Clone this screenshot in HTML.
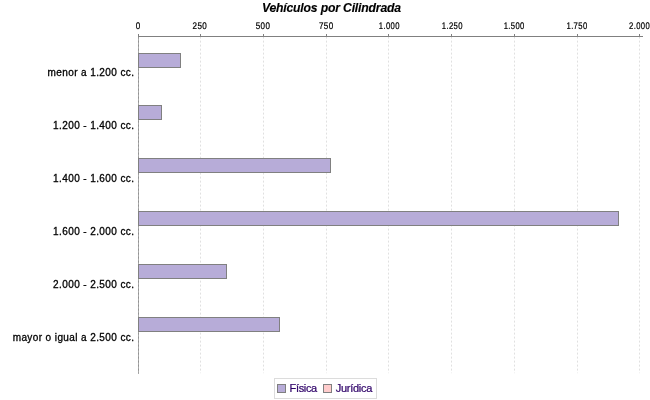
<!DOCTYPE html>
<html><head><meta charset="utf-8"><title>Vehículos por Cilindrada</title>
<style>
html,body{margin:0;padding:0;background:#fff;}
body{width:650px;height:400px;overflow:hidden;font-family:"Liberation Sans",sans-serif;}
svg{display:block;will-change:transform;}
text{font-family:"Liberation Sans",sans-serif;}
</style></head><body>
<svg width="650" height="400" viewBox="0 0 650 400">
<rect x="0" y="0" width="650" height="400" fill="#ffffff"/>
<text x="331.4" y="11.5" text-anchor="middle" font-size="12.2px" letter-spacing="-0.17" font-weight="bold" font-style="italic" fill="#000" stroke="#000" stroke-width="0.15">Vehículos por Cilindrada</text>
<line x1="138.50" y1="36.6" x2="138.50" y2="373.2" stroke="#c0c0c0" stroke-width="0.5" stroke-dasharray="2,2"/>
<line x1="200.50" y1="36.6" x2="200.50" y2="373.2" stroke="#c0c0c0" stroke-width="0.5" stroke-dasharray="2,2"/>
<line x1="263.50" y1="36.6" x2="263.50" y2="373.2" stroke="#c0c0c0" stroke-width="0.5" stroke-dasharray="2,2"/>
<line x1="326.50" y1="36.6" x2="326.50" y2="373.2" stroke="#c0c0c0" stroke-width="0.5" stroke-dasharray="2,2"/>
<line x1="388.50" y1="36.6" x2="388.50" y2="373.2" stroke="#c0c0c0" stroke-width="0.5" stroke-dasharray="2,2"/>
<line x1="451.50" y1="36.6" x2="451.50" y2="373.2" stroke="#c0c0c0" stroke-width="0.5" stroke-dasharray="2,2"/>
<line x1="514.50" y1="36.6" x2="514.50" y2="373.2" stroke="#c0c0c0" stroke-width="0.5" stroke-dasharray="2,2"/>
<line x1="577.50" y1="36.6" x2="577.50" y2="373.2" stroke="#c0c0c0" stroke-width="0.5" stroke-dasharray="2,2"/>
<line x1="639.50" y1="36.6" x2="639.50" y2="373.2" stroke="#c0c0c0" stroke-width="0.5" stroke-dasharray="2,2"/>
<line x1="138.5" y1="37" x2="138.5" y2="373.6" stroke="#adadad" stroke-width="1"/>
<line x1="138.5" y1="36.6" x2="138.5" y2="373.6" stroke="#929292" stroke-width="1" stroke-dasharray="2,2"/>
<rect x="138.5" y="53.50" width="42.00" height="14" fill="#b7acd8" stroke="#808080" stroke-width="1"/>
<rect x="138.5" y="105.50" width="23.00" height="14" fill="#b7acd8" stroke="#808080" stroke-width="1"/>
<rect x="138.5" y="158.50" width="192.00" height="14" fill="#b7acd8" stroke="#808080" stroke-width="1"/>
<rect x="138.5" y="211.50" width="480.00" height="14" fill="#b7acd8" stroke="#808080" stroke-width="1"/>
<rect x="138.5" y="264.50" width="88.00" height="14" fill="#b7acd8" stroke="#808080" stroke-width="1"/>
<rect x="138.5" y="317.50" width="141.00" height="14" fill="#b7acd8" stroke="#808080" stroke-width="1"/>
<line x1="138" y1="36.5" x2="643" y2="36.5" stroke="#808080" stroke-width="1"/>
<line x1="138.50" y1="34" x2="138.50" y2="36.5" stroke="#808080" stroke-width="1"/>
<text transform="translate(138.20,28.9) scale(0.840,1)" text-anchor="middle" font-size="9.60px" letter-spacing="0.45" text-rendering="geometricPrecision" fill="#000" stroke="#000" stroke-width="0.22">0</text>
<line x1="200.50" y1="34" x2="200.50" y2="36.5" stroke="#808080" stroke-width="1"/>
<text transform="translate(199.90,28.9) scale(0.840,1)" text-anchor="middle" font-size="9.60px" letter-spacing="0.45" text-rendering="geometricPrecision" fill="#000" stroke="#000" stroke-width="0.22">250</text>
<line x1="263.50" y1="34" x2="263.50" y2="36.5" stroke="#808080" stroke-width="1"/>
<text transform="translate(263.00,28.9) scale(0.840,1)" text-anchor="middle" font-size="9.60px" letter-spacing="0.45" text-rendering="geometricPrecision" fill="#000" stroke="#000" stroke-width="0.22">500</text>
<line x1="326.50" y1="34" x2="326.50" y2="36.5" stroke="#808080" stroke-width="1"/>
<text transform="translate(326.20,28.9) scale(0.840,1)" text-anchor="middle" font-size="9.60px" letter-spacing="0.45" text-rendering="geometricPrecision" fill="#000" stroke="#000" stroke-width="0.22">750</text>
<line x1="388.50" y1="34" x2="388.50" y2="36.5" stroke="#808080" stroke-width="1"/>
<text transform="translate(389.30,28.9) scale(0.800,1)" text-anchor="middle" font-size="9.60px" letter-spacing="0.45" text-rendering="geometricPrecision" fill="#000" stroke="#000" stroke-width="0.22">1.000</text>
<line x1="451.50" y1="34" x2="451.50" y2="36.5" stroke="#808080" stroke-width="1"/>
<text transform="translate(452.30,28.9) scale(0.800,1)" text-anchor="middle" font-size="9.60px" letter-spacing="0.45" text-rendering="geometricPrecision" fill="#000" stroke="#000" stroke-width="0.22">1.250</text>
<line x1="514.50" y1="34" x2="514.50" y2="36.5" stroke="#808080" stroke-width="1"/>
<text transform="translate(514.20,28.9) scale(0.800,1)" text-anchor="middle" font-size="9.60px" letter-spacing="0.45" text-rendering="geometricPrecision" fill="#000" stroke="#000" stroke-width="0.22">1.500</text>
<line x1="577.50" y1="34" x2="577.50" y2="36.5" stroke="#808080" stroke-width="1"/>
<text transform="translate(577.00,28.9) scale(0.800,1)" text-anchor="middle" font-size="9.60px" letter-spacing="0.45" text-rendering="geometricPrecision" fill="#000" stroke="#000" stroke-width="0.22">1.750</text>
<line x1="639.50" y1="34" x2="639.50" y2="36.5" stroke="#808080" stroke-width="1"/>
<text transform="translate(639.60,28.9) scale(0.800,1)" text-anchor="middle" font-size="9.60px" letter-spacing="0.45" text-rendering="geometricPrecision" fill="#000" stroke="#000" stroke-width="0.22">2.000</text>
<text x="134.4" y="76.00" text-anchor="end" font-size="10px" letter-spacing="0.4" fill="#000" stroke="#000" stroke-width="0.3">menor a 1.200 cc.</text>
<text x="134.4" y="129.00" text-anchor="end" font-size="10px" letter-spacing="0.4" fill="#000" stroke="#000" stroke-width="0.3">1.200 - 1.400 cc.</text>
<text x="134.4" y="182.00" text-anchor="end" font-size="10px" letter-spacing="0.4" fill="#000" stroke="#000" stroke-width="0.3">1.400 - 1.600 cc.</text>
<text x="134.4" y="235.00" text-anchor="end" font-size="10px" letter-spacing="0.4" fill="#000" stroke="#000" stroke-width="0.3">1.600 - 2.000 cc.</text>
<text x="134.4" y="288.00" text-anchor="end" font-size="10px" letter-spacing="0.4" fill="#000" stroke="#000" stroke-width="0.3">2.000 - 2.500 cc.</text>
<text x="134.4" y="341.00" text-anchor="end" font-size="10px" letter-spacing="0.4" fill="#000" stroke="#000" stroke-width="0.3">mayor o igual a 2.500 cc.</text>
<rect x="274.5" y="378.5" width="102" height="20" fill="#fff" stroke="#dcdcdc" stroke-width="1"/>
<rect x="277.5" y="384.5" width="8" height="8" fill="#b7acd8" stroke="#808080" stroke-width="1"/>
<text x="289.6" y="391.8" font-size="11px" letter-spacing="-0.35" fill="#2e0068" stroke="#2e0068" stroke-width="0.22">Física</text>
<rect x="323.5" y="384.5" width="8" height="8" fill="#ffcccc" stroke="#808080" stroke-width="1"/>
<text x="335.7" y="391.8" font-size="11px" letter-spacing="-0.27" fill="#2e0068" stroke="#2e0068" stroke-width="0.22">Jurídica</text>
</svg></body></html>
